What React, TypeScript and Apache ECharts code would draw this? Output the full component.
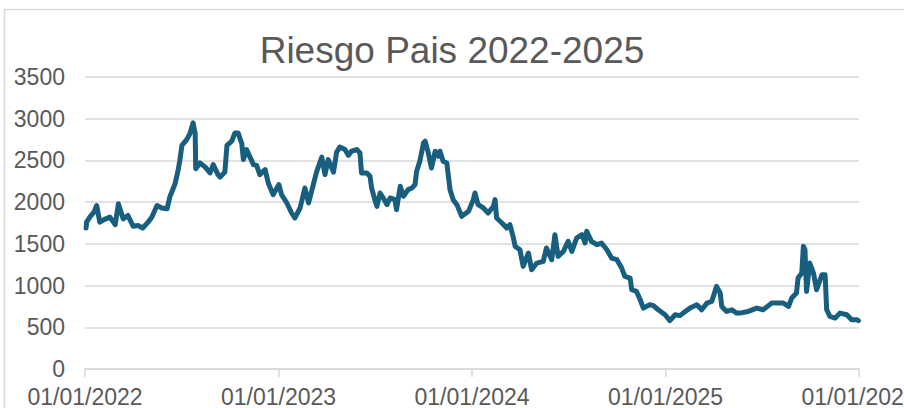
import React, { useEffect, useRef } from "react";
import * as echarts from "echarts";

const titleText = "Riesgo Pais 2022-2025";

const dates: string[] = [
  "2022-01-03","2022-01-04","2022-01-10","2022-01-18","2022-01-23","2022-01-29","2022-02-06","2022-02-17","2022-02-27","2022-03-05",
  "2022-03-14","2022-03-23","2022-04-02","2022-04-11","2022-04-20","2022-04-30","2022-05-07","2022-05-17","2022-05-26","2022-06-05",
  "2022-06-10","2022-06-20","2022-06-26","2022-06-29","2022-07-03","2022-07-12","2022-07-18","2022-07-24","2022-07-28","2022-07-29",
  "2022-08-06","2022-08-16","2022-08-25","2022-08-31","2022-09-09","2022-09-13","2022-09-22","2022-09-26","2022-10-05","2022-10-11",
  "2022-10-17","2022-10-24","2022-10-27","2022-11-02","2022-11-15","2022-11-21","2022-11-27","2022-12-07","2022-12-13","2022-12-22",
  "2023-01-02","2023-01-07","2023-01-17","2023-01-26","2023-02-01","2023-02-11","2023-02-20","2023-02-27","2023-03-08","2023-03-14",
  "2023-03-24","2023-03-30","2023-04-05","2023-04-15","2023-04-21","2023-04-27","2023-05-07","2023-05-13","2023-05-19","2023-05-29",
  "2023-06-04","2023-06-07","2023-06-17","2023-06-23","2023-06-26","2023-07-02","2023-07-06","2023-07-12","2023-07-18","2023-07-25",
  "2023-07-31","2023-08-09","2023-08-12","2023-08-19","2023-08-25","2023-09-03","2023-09-10","2023-09-16","2023-09-19","2023-09-25",
  "2023-10-02","2023-10-05","2023-10-11","2023-10-17","2023-10-24","2023-10-30","2023-11-02","2023-11-08","2023-11-15","2023-11-21",
  "2023-11-27","2023-12-04","2023-12-13","2023-12-26","2024-01-04","2024-01-07","2024-01-13","2024-01-23","2024-02-01","2024-02-11",
  "2024-02-14","2024-02-17","2024-02-27","2024-03-07","2024-03-13","2024-03-19","2024-03-23","2024-04-01","2024-04-07","2024-04-17",
  "2024-04-23","2024-05-03","2024-05-15","2024-05-21","2024-05-31","2024-06-06","2024-06-12","2024-06-22","2024-07-01","2024-07-08",
  "2024-07-17","2024-07-27","2024-08-02","2024-08-05","2024-08-14","2024-08-24","2024-09-02","2024-09-12","2024-09-21","2024-10-01",
  "2024-10-10","2024-10-16","2024-10-26","2024-10-29","2024-11-07","2024-11-14","2024-11-20","2024-12-02","2024-12-09","2024-12-18",
  "2024-12-31","2025-01-09","2025-01-19","2025-01-28","2025-02-07","2025-02-16","2025-03-01","2025-03-10","2025-03-20","2025-03-29",
  "2025-04-07","2025-04-14","2025-04-17","2025-04-26","2025-05-06","2025-05-15","2025-05-21","2025-06-06","2025-06-22","2025-07-04",
  "2025-07-20","2025-08-11","2025-08-21","2025-08-27","2025-09-05","2025-09-08","2025-09-15","2025-09-18","2025-09-21","2025-09-24",
  "2025-09-30","2025-10-07","2025-10-13","2025-10-23","2025-10-29","2025-11-01","2025-11-07","2025-11-17","2025-11-26","2025-12-09",
  "2025-12-18","2025-12-28","2025-12-31"
];

const riesgo: number[] = [
  1690,1760,1820,1880,1960,1760,1790,1820,1730,1980,
  1800,1840,1710,1720,1690,1760,1820,1960,1930,1920,
  2060,2220,2390,2500,2680,2750,2820,2950,2820,2400,
  2470,2420,2350,2450,2330,2300,2360,2680,2730,2830,
  2830,2700,2510,2630,2450,2440,2330,2390,2230,2090,
  2210,2090,1990,1870,1810,1930,2170,1990,2210,2360,
  2540,2330,2510,2360,2600,2660,2630,2560,2610,2630,
  2590,2350,2350,2310,2170,2030,1950,2110,2050,1970,
  2050,2030,1910,2190,2070,2150,2170,2210,2370,2490,
  2710,2730,2590,2410,2610,2550,2610,2490,2470,2150,
  2030,1970,1830,1890,2030,2110,1970,1930,1870,1950,
  2030,1810,1750,1690,1730,1590,1470,1430,1230,1390,
  1190,1270,1290,1450,1310,1610,1350,1410,1530,1410,
  1570,1610,1510,1650,1530,1490,1510,1430,1330,1310,
  1210,1110,1090,950,930,830,730,770,760,710,
  650,580,650,640,690,730,770,710,790,810,
  990,910,750,690,710,670,670,690,730,710,
  790,790,750,850,910,1090,1150,1470,1430,930,
  1270,1150,950,1130,1130,710,630,610,670,650,
  590,590,580
];

const yTicks = [0, 500, 1000, 1500, 2000, 2500, 3000, 3500];
const xStartYear = 2022;
const xYears = 4;

const FONT = "'Liberation Sans', Arial, Helvetica, sans-serif";

export default function App() {
  const ref = useRef<HTMLDivElement>(null);

  useEffect(() => {
    document.body.style.margin = "0";
    document.body.style.overflow = "hidden";
    if (!ref.current) return;
    const chart = echarts.init(ref.current, undefined, { renderer: "svg" });
    const base = Date.UTC(xStartYear, 0, 1);
    const totalDays = (Date.UTC(xStartYear + xYears, 0, 1) - base) / 86400000;
    const seriesData = dates.map((d, i) => [
      (Date.parse(d) - base) / 86400000,
      riesgo[i],
    ]);

    chart.setOption({
      animation: false,
      backgroundColor: "#ffffff",
      title: {
        text: titleText,
        left: "center",
        top: 27,
        textStyle: {
          fontFamily: FONT,
          fontSize: 37,
          fontWeight: "normal",
          color: "#595959",
        },
      },
      graphic: [
        {
          type: "rect",
          shape: { x: 4.5, y: 9.5, width: 1000, height: 500 },
          style: { fill: "none", stroke: "#d9d9d9", lineWidth: 1.5 },
          silent: true,
        },
      ],
      grid: {
        left: 85,
        right: 45,
        top: 77,
        bottom: 39,
        containLabel: false,
        outerBoundsMode: "none",
      },
      xAxis: {
        type: "value",
        min: 0,
        max: totalDays,
        interval: totalDays / xYears,
        axisLine: { show: true, lineStyle: { color: "#d9d9d9", width: 1.5 } },
        axisTick: { show: true, length: 8, lineStyle: { color: "#d9d9d9", width: 1.5 } },
        splitLine: { show: false },
        axisLabel: {
          margin: 16,
          fontFamily: FONT,
          fontSize: 23,
          color: "#595959",
          showMinLabel: true,
          showMaxLabel: true,
          hideOverlap: false,
          formatter: (v: number) =>
            "01/01/" + (xStartYear + Math.round(v / (totalDays / xYears))),
        },
      },
      yAxis: {
        type: "value",
        min: yTicks[0],
        max: yTicks[yTicks.length - 1],
        interval: yTicks[1] - yTicks[0],
        axisLine: { show: false },
        axisTick: { show: false },
        splitLine: { show: true, lineStyle: { color: "#d9d9d9", width: 1.5 } },
        axisLabel: {
          margin: 20,
          fontFamily: FONT,
          fontSize: 23,
          color: "#595959",
          formatter: (v: number) => String(v),
        },
      },
      series: [
        {
          type: "line",
          data: seriesData,
          showSymbol: false,
          symbol: "none",
          lineStyle: { color: "#175e7f", width: 5, join: "round", cap: "round" },
          z: 3,
        },
      ],
    });

    return () => chart.dispose();
  }, []);

  return <div ref={ref} style={{ width: 904, height: 408 }} />;
}
